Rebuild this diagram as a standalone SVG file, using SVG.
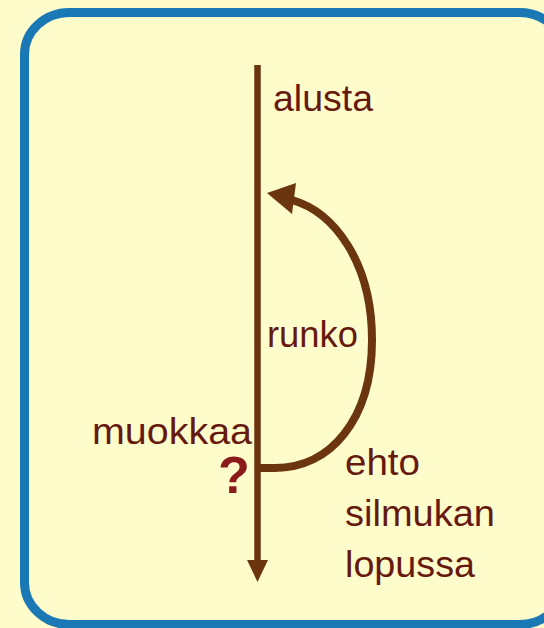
<svg xmlns="http://www.w3.org/2000/svg" width="544" height="628" viewBox="0 0 544 628">
  <style>
    .lbl { font-family: "Liberation Sans", Arial, sans-serif; font-size: 36px; fill: #661a0e; }
    .q { font-family: "Liberation Sans", Arial, sans-serif; font-size: 52px; font-weight: bold; fill: #8b1a1a; }
    .flow { stroke: #6b3510; fill: none; }
  </style>
  <rect width="544" height="628" fill="#fffccc"/>
  <!-- outer frame -->
  <g id="frame">
    <rect x="24.5" y="12.5" width="540" height="612" rx="45" ry="42" fill="none" stroke="#1a78b4" stroke-width="9"/>
  </g>
  <!-- connectors -->
  <g id="connectors">
    <line class="flow" x1="257.5" y1="65" x2="257.5" y2="565" stroke-width="6.5"/>
    <polygon points="247,560 268,560 257.5,582" fill="#6b3510"/>
    <path class="flow" d="M 258 468 L 275 468 C 330 468, 372 420, 372 340 C 372 262, 334 212, 292 200" stroke-width="8"/>
    <polygon points="267,193 296,183 292,214" fill="#6b3510"/>
  </g>
  <g id="alusta"><text class="lbl" x="273" y="111" textLength="100" lengthAdjust="spacingAndGlyphs">alusta</text></g>
  <g id="runko"><text class="lbl" x="267" y="347" textLength="91" lengthAdjust="spacingAndGlyphs">runko</text></g>
  <g id="muokkaa"><text class="lbl" x="92" y="444" textLength="160" lengthAdjust="spacingAndGlyphs">muokkaa</text></g>
  <g id="kysymys"><text class="q" x="218" y="493">?</text></g>
  <g id="ehto">
    <text class="lbl" x="345" y="475" textLength="75" lengthAdjust="spacingAndGlyphs">ehto</text>
    <text class="lbl" x="345" y="526" textLength="150" lengthAdjust="spacingAndGlyphs">silmukan</text>
    <text class="lbl" x="345" y="577" textLength="130" lengthAdjust="spacingAndGlyphs">lopussa</text>
  </g>
</svg>
